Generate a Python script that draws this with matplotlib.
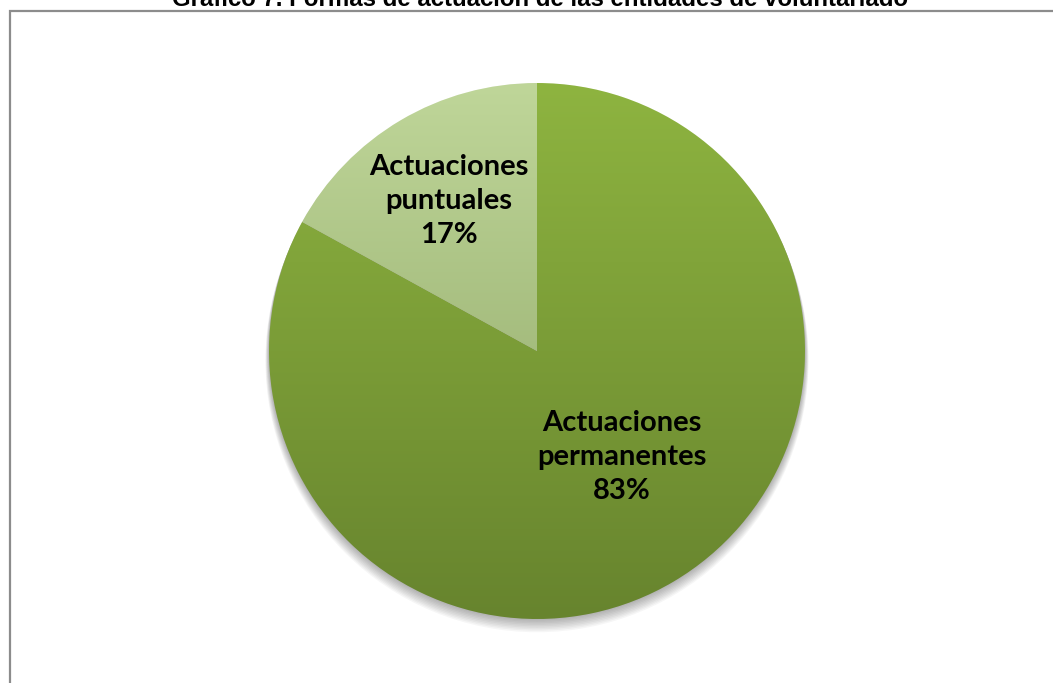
import matplotlib.pyplot as plt
import numpy as np
from matplotlib.patches import Rectangle, Circle
from matplotlib.colors import LinearSegmentedColormap

titulo = 'Gráfico 7. Formas de actuación de las entidades de voluntariado'
etiquetas = ['Actuaciones\npermanentes', 'Actuaciones\npuntuales']
valores = [83, 17]
# gradientes (arriba -> abajo) de cada porcion
colores = [('#8eb440', '#67842e'), ('#bfd699', '#8ba363')]
pos_etiquetas = [(0.317, -0.396), (-0.33, 0.56)]

W, H = 1053, 683
fig = plt.figure(figsize=(W / 100, H / 100), dpi=100)
fig.patch.set_facecolor('white')

# marco gris del grafico (cortado abajo y a la derecha)
fig.patches.append(Rectangle((10 / W, -0.1), 1.2, 1 - 11 / H + 0.1,
                             transform=fig.transFigure, fill=False,
                             edgecolor='#8c8c8c', linewidth=1.6))

# el titulo queda cortado arriba, como en el original
fig.text(540 / W, 1 - 6 / H, titulo, ha='center', va='baseline',
         fontsize=17.3, fontweight='bold', family='Liberation Sans')

r = 268
cx, cy = 537, H - 351
ax = fig.add_axes([(cx - r) / W, (cy - r) / H, 2 * r / W, 2 * r / H])
ax.set_xlim(-1, 1)
ax.set_ylim(-1, 1)
ax.axis('off')

# sombra difusa hacia abajo
for i in range(10):
    ax.add_patch(Circle((0, -0.004 * i), 1.0 + 0.0015 * i, color='black',
                        alpha=0.035, lw=0, zorder=0, clip_on=False))

wedges, _ = ax.pie(valores, startangle=90, counterclock=False, radius=1,
                   wedgeprops=dict(linewidth=0))

grad = np.linspace(0, 1, 256).reshape(-1, 1)
for w, (c1, c2) in zip(wedges, colores):
    w.set_facecolor('none')
    cmap = LinearSegmentedColormap.from_list('g', [c1, c2])
    im = ax.imshow(grad, cmap=cmap, extent=[-1, 1, -1, 1], aspect='auto',
                   origin='upper', zorder=1)
    im.set_clip_path(w)

for lab, v, (x, y) in zip(etiquetas, valores, pos_etiquetas):
    ax.text(x, y, f'{lab}\n{v}%', ha='center', va='center', fontsize=21,
            fontweight='bold', family='Lato', linespacing=1.38, zorder=3)

ax.set_xlim(-1.0, 1.0)
ax.set_ylim(-1.0, 1.0)
fig.savefig('out.png', dpi=100)
